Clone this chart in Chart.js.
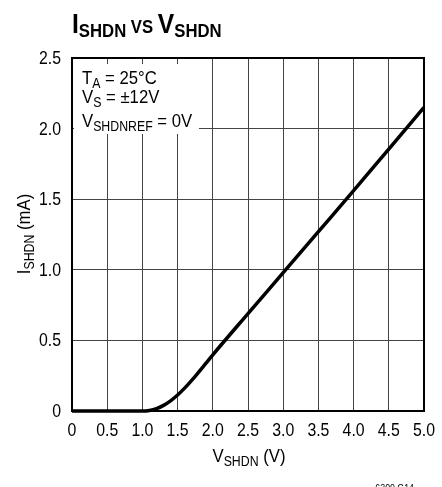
<!DOCTYPE html>
<html>
<head>
<meta charset="utf-8">
<script src="https://cdn.jsdelivr.net/npm/chart.js@4/dist/chart.umd.min.js"></script>
<style>
  html, body { margin: 0; padding: 0; background: #fff; }
  #wrap { width: 442px; height: 487px; }
</style>
</head>
<body>
<div id="wrap"><canvas id="chart" width="442" height="487"></canvas></div>
<script>
// data
const vShdn = [0, 0.5, 1.0, 1.1, 1.2, 1.3, 1.4, 1.5, 1.6, 1.7, 1.8, 1.9, 2.0, 2.5, 3.0, 3.5, 4.0, 4.5, 5.0];
const iShdn = [0, 0, 0, 0.004, 0.017, 0.040, 0.072, 0.113, 0.162, 0.217, 0.276, 0.337, 0.398, 0.69, 0.98, 1.27, 1.56, 1.855, 2.15];
const xTicks = ['0', '0.5', '1.0', '1.5', '2.0', '2.5', '3.0', '3.5', '4.0', '4.5', '5.0'];
const yTicks = ['0', '0.5', '1.0', '1.5', '2.0', '2.5'];

const FONT = '"Liberation Sans", Arial, sans-serif';
const NARROW = 0.88;

// draws text made of parts (some are subscripts), squeezed to look like a narrow face
function drawRich(ctx, parts, x, y, align) {
    let total = 0;
    parts.forEach(p => {
        ctx.font = (p.bold ? 'bold ' : '') + p.size + 'px ' + FONT;
        p.w = ctx.measureText(p.t).width * NARROW;
        total += p.w;
    });
    let cx = x;
    if (align === 'center') cx = x - total / 2;
    if (align === 'right') cx = x - total;
    ctx.textAlign = 'left';
    ctx.textBaseline = 'alphabetic';
    parts.forEach(p => {
        ctx.font = (p.bold ? 'bold ' : '') + p.size + 'px ' + FONT;
        ctx.save();
        ctx.translate(cx, y + (p.dy || 0));
        ctx.scale(NARROW, 1);
        ctx.fillText(p.t, 0, 0);
        ctx.restore();
        cx += p.w;
    });
}

const decorations = {
    id: 'decorations',
    beforeDatasetsDraw(chart) {
        const ctx = chart.ctx;
        ctx.save();
        // white box behind the conditions text
        ctx.fillStyle = '#fff';
        ctx.fillRect(74, 64, 125, 70);
        ctx.fillStyle = '#000';
        drawRich(ctx, [{t: 'T', size: 19}, {t: 'A', size: 14, dy: 4}, {t: ' = 25°C', size: 19}], 82, 84);
        drawRich(ctx, [{t: 'V', size: 19}, {t: 'S', size: 14, dy: 4}, {t: ' = ±12V', size: 19}], 82, 103);
        drawRich(ctx, [{t: 'V', size: 19}, {t: 'SHDNREF', size: 14, dy: 4}, {t: ' = 0V', size: 19}], 82, 127);
        ctx.restore();
    },
    afterDraw(chart) {
        const ctx = chart.ctx;
        const a = chart.chartArea;
        const xs = chart.scales.x;
        const ys = chart.scales.y;
        ctx.save();
        ctx.strokeStyle = '#000';
        ctx.lineWidth = 2;
        ctx.strokeRect(a.left, a.top, a.right - a.left, a.bottom - a.top);
        ctx.fillStyle = '#000';
        // tick labels
        xTicks.forEach(t => {
            drawRich(ctx, [{t: t, size: 18}], xs.getPixelForValue(parseFloat(t)), 436, 'center');
        });
        yTicks.forEach(t => {
            drawRich(ctx, [{t: t, size: 18}], 61, ys.getPixelForValue(parseFloat(t)) + 6, 'right');
        });
        // title
        drawRich(ctx, [
            {t: 'I', size: 28, bold: true},
            {t: 'SHDN', size: 19, bold: true, dy: 4},
            {t: ' VS ', size: 19, bold: true},
            {t: 'V', size: 28, bold: true},
            {t: 'SHDN', size: 19, bold: true, dy: 4}
        ], 72, 33);
        // x axis title
        drawRich(ctx, [{t: 'V', size: 19}, {t: 'SHDN', size: 14, dy: 4}, {t: ' (V)', size: 19}], 249, 462, 'center');
        // y axis title
        ctx.save();
        ctx.translate(30, 234);
        ctx.rotate(-Math.PI / 2);
        drawRich(ctx, [{t: 'I', size: 19}, {t: 'SHDN', size: 14, dy: 4}, {t: ' (mA)', size: 19}], 0, 0, 'center');
        ctx.restore();
        drawRich(ctx, [{t: '6300 G14', size: 10}], 414, 492, 'right');
        ctx.restore();
    }
};

new Chart(document.getElementById('chart'), {
    type: 'line',
    data: {
        datasets: [{
            data: vShdn.map((v, i) => ({x: v, y: iShdn[i]})),
            borderColor: '#000',
            borderWidth: 3.5,
            pointRadius: 0,
            cubicInterpolationMode: 'monotone',
            clip: false
        }]
    },
    options: {
        responsive: false,
        animation: false,
        layout: { padding: { top: 58, right: 18, left: 0, bottom: 0 } },
        plugins: { legend: { display: false }, tooltip: { enabled: false } },
        scales: {
            x: {
                type: 'linear',
                min: 0, max: 5,
                afterBuildTicks: s => { s.ticks = xTicks.map(t => ({value: parseFloat(t)})); },
                afterFit: s => { s.height = 76; },
                ticks: { display: false },
                grid: { color: '#444', lineWidth: 1, drawTicks: false },
                border: { display: false }
            },
            y: {
                type: 'linear',
                min: 0, max: 2.5,
                afterBuildTicks: s => { s.ticks = yTicks.map(t => ({value: parseFloat(t)})); },
                afterFit: s => { s.width = 72; },
                ticks: { display: false },
                grid: { color: '#444', lineWidth: 1, drawTicks: false },
                border: { display: false }
            }
        }
    },
    plugins: [decorations]
});
</script>
</body>
</html>
